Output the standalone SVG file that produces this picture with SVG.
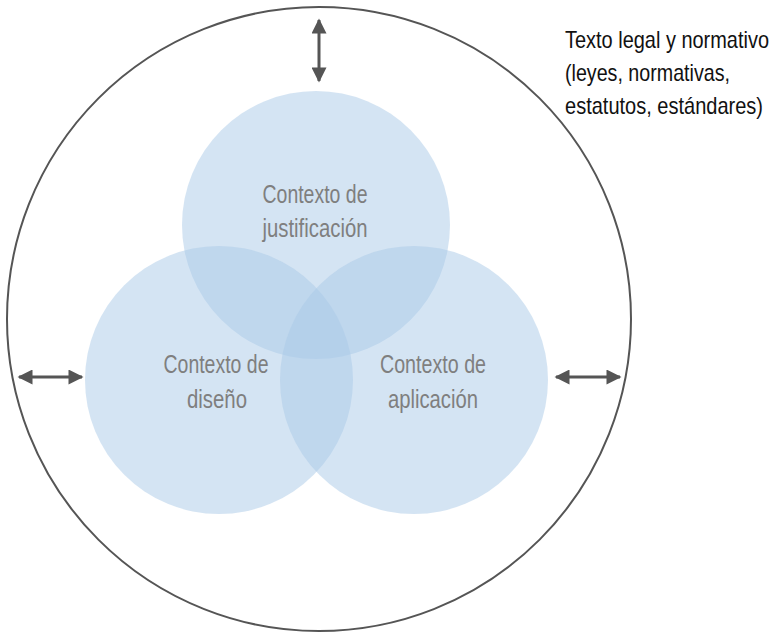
<svg xmlns="http://www.w3.org/2000/svg" width="778" height="634" viewBox="0 0 778 634">
<style>
.c{fill:rgb(169,201,231);fill-opacity:0.5}
.lbl{font-family:"Liberation Sans",Arial,sans-serif;font-size:25px;fill:#7f7f7f;text-anchor:middle}
.note{font-family:"Liberation Sans",Arial,sans-serif;font-size:24px;fill:#111}
.arr{stroke:#555;stroke-width:3;fill:none;marker-start:url(#ah);marker-end:url(#ah)}
</style>
<defs>
<marker id="ah" viewBox="0 0 10 10" refX="9" refY="5" markerWidth="5.5" markerHeight="5" orient="auto-start-reverse" markerUnits="strokeWidth">
<path d="M0,0 L10,5 L0,10 Z" fill="#555"/>
</marker>
</defs>
<g id="outer">
<circle cx="319" cy="319" r="312" fill="none" stroke="#555" stroke-width="2"/>
</g>
<g id="justificacion">
<circle class="c" cx="316" cy="225" r="134"/>
<text class="lbl" x="315" y="203" textLength="105" lengthAdjust="spacingAndGlyphs">Contexto de</text>
<text class="lbl" x="315" y="237" textLength="105" lengthAdjust="spacingAndGlyphs">justificación</text>
</g>
<g id="diseno">
<circle class="c" cx="219" cy="380" r="134"/>
<text class="lbl" x="216" y="373" textLength="105" lengthAdjust="spacingAndGlyphs">Contexto de</text>
<text class="lbl" x="217" y="408" textLength="60" lengthAdjust="spacingAndGlyphs">diseño</text>
</g>
<g id="aplicacion">
<circle class="c" cx="414" cy="380" r="134"/>
<text class="lbl" x="433" y="373" textLength="106" lengthAdjust="spacingAndGlyphs">Contexto de</text>
<text class="lbl" x="433" y="408" textLength="90" lengthAdjust="spacingAndGlyphs">aplicación</text>
</g>
<g id="legal">
<text class="note" x="565" y="48" textLength="204" lengthAdjust="spacingAndGlyphs">Texto legal y normativo</text>
<text class="note" x="565" y="81" textLength="165" lengthAdjust="spacingAndGlyphs">(leyes, normativas,</text>
<text class="note" x="565" y="114" textLength="198" lengthAdjust="spacingAndGlyphs">estatutos, estándares)</text>
</g>
<g id="connectors">
<line class="arr" x1="319" y1="20" x2="319" y2="81"/>
<line class="arr" x1="19" y1="377" x2="82" y2="377"/>
<line class="arr" x1="556" y1="377" x2="620" y2="377"/>
</g>
</svg>
